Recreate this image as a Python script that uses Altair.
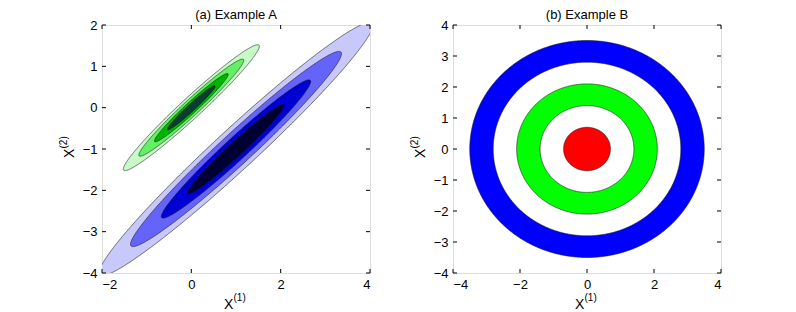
import numpy as np
import pandas as pd
import altair as alt

# ---------------- data ----------------
# Panel (a): filled contours of two elongated Gaussians (outer level first)
green_center = (0.0, 0.0)
green_semi_major = [2.14, 1.65, 1.16, 0.75]
green_semi_minor = [0.24, 0.185, 0.13, 0.083]
green_colors = ["#c8fac8", "#64f064", "#00b400", "#0a3c32"]

blue_center = (1.0, -1.0)
blue_semi_major = [4.31, 3.32, 2.35, 1.51]
blue_semi_minor = [0.47, 0.365, 0.26, 0.167]
blue_colors = ["#c8c8fa", "#6464fa", "#0000d2", "#000032"]
tilt_deg = 45.0

# Panel (b): concentric discs (outer first)
ring_radii = [3.5, 2.8, 2.1, 1.4, 0.7]
ring_colors = ["#0000ff", "#ffffff", "#00ff00", "#ffffff", "#ff0000"]

a_xticks = [-2, 0, 2, 4]
a_yticks = [-4, -3, -2, -1, 0, 1, 2]
b_xticks = [-4, -2, 0, 2, 4]
b_yticks = [-4, -3, -2, -1, 0, 1, 2, 3, 4]

title_a = ["(a) Example A"]
title_b = ["(b) Example B"]
axis_letter = ["X"]
x_sup = ["(1)"]
y_sup = ["(2)"]

W, H = 268, 248
FONT = "Liberation Sans"
TICK = 4


def ellipse_band(cx, cy, a, b, theta_deg, n=401):
    th = np.radians(theta_deg)
    c, s = np.cos(th), np.sin(th)
    m11 = c * c / a**2 + s * s / b**2
    m22 = s * s / a**2 + c * c / b**2
    m12 = c * s * (1 / a**2 - 1 / b**2)
    X = np.sqrt(a * a * c * c + b * b * s * s)
    dx = X * np.cos(np.linspace(0, np.pi, n))
    disc = np.clip(m22 - dx**2 / (a * a * b * b), 0, None)
    y1 = (-m12 * dx - np.sqrt(disc)) / m22
    y2 = (-m12 * dx + np.sqrt(disc)) / m22
    return pd.DataFrame({"x": cx + dx, "y": cy + y1, "y2": cy + y2})


def label_text(txt, x, y, size, angle=0, align="left", baseline="alphabetic"):
    kw = dict(align=align, baseline=baseline, font=FONT, fontSize=size, color="black")
    if angle:
        kw["angle"] = angle
    return (
        alt.Chart(pd.DataFrame({"t": txt}))
        .mark_text(**kw)
        .encode(x=alt.value(x), y=alt.value(y), text="t:N")
    )


def panel(shapes, xdom, ydom, xticks, yticks, title):
    xs = alt.Scale(domain=xdom, nice=False, zero=False)
    ys = alt.Scale(domain=ydom, nice=False, zero=False)
    common = dict(title=None, grid=False, ticks=False, domain=False,
                  labelFont=FONT, labelFontSize=13, labelColor="black", labelPadding=5)
    xax = alt.Axis(values=xticks, **common)
    yax = alt.Axis(values=yticks, **common)
    layers = []
    for df, col in shapes:
        layers.append(
            alt.Chart(df)
            .mark_area(color=col, stroke="#1a1a1a", strokeWidth=0.6, clip=True,
                       opacity=1, fillOpacity=1)
            .encode(x=alt.X("x:Q", scale=xs, axis=xax),
                    y=alt.Y("y:Q", scale=ys, axis=yax),
                    y2="y2:Q")
        )
    xt = pd.DataFrame({"x": xticks})
    yt = pd.DataFrame({"y": yticks})
    rx = alt.X("x:Q", scale=xs, axis=xax)
    ry = alt.Y("y:Q", scale=ys, axis=yax)
    layers += [
        alt.Chart(xt).mark_rule(color="black", strokeWidth=1).encode(x=rx, y=alt.value(H), y2=alt.value(H - TICK)),
        alt.Chart(xt).mark_rule(color="black", strokeWidth=1).encode(x=rx, y=alt.value(0), y2=alt.value(TICK)),
        alt.Chart(yt).mark_rule(color="black", strokeWidth=1).encode(y=ry, x=alt.value(0), x2=alt.value(TICK)),
        alt.Chart(yt).mark_rule(color="black", strokeWidth=1).encode(y=ry, x=alt.value(W - TICK), x2=alt.value(W)),
        # panel title
        label_text(title, W / 2, -10, 13, align="center", baseline="middle"),
        # axis titles  X^(1)  and  X^(2)
        label_text(axis_letter, 122, 283.5, 14),
        label_text(x_sup, 131.5, 275.5, 10),
        label_text(axis_letter, -28, 133, 14, angle=270),
        label_text(y_sup, -35, 123.5, 10, angle=270),
    ]
    return alt.layer(*layers).properties(width=W, height=H)


shapes_a = []
for a, b, col in zip(blue_semi_major, blue_semi_minor, blue_colors):
    shapes_a.append((ellipse_band(blue_center[0], blue_center[1], a, b, tilt_deg), col))
for a, b, col in zip(green_semi_major, green_semi_minor, green_colors):
    shapes_a.append((ellipse_band(green_center[0], green_center[1], a, b, tilt_deg), col))

shapes_b = [(ellipse_band(0, 0, r, r, 0), col) for r, col in zip(ring_radii, ring_colors)]

left = panel(shapes_a, [-2, 4], [-4, 2], a_xticks, a_yticks, title_a)
right = panel(shapes_b, [-4, 4], [-4, 4], b_xticks, b_yticks, title_b)

chart = (
    alt.hconcat(left, right, spacing=38)
    .properties(padding={"left": 50, "top": 0, "right": 0, "bottom": 0})
    .configure_view(stroke="black", strokeWidth=1)
    .configure(background="white")
)

chart.save("out.html", embed_options={"renderer": "svg", "actions": False})
